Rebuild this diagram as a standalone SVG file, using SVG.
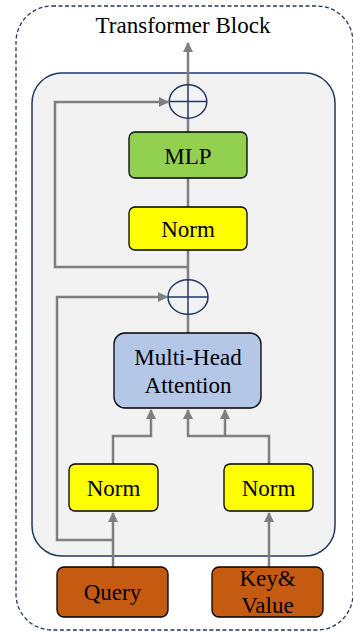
<svg xmlns="http://www.w3.org/2000/svg" width="353" height="634" viewBox="0 0 353 634">
<defs>
<marker id="ah" viewBox="0 0 10 10" refX="9" refY="5" markerWidth="4" markerHeight="4" orient="auto" markerUnits="strokeWidth">
<path d="M0,0 L10,5 L0,10 z" fill="#7f7f7f"/>
</marker>
<style>
text{font-family:"Liberation Serif","Times New Roman",serif;font-size:23px;fill:#000;text-anchor:middle}
.box{stroke:#000;stroke-width:1.3}
.conn{fill:none;stroke:#7f7f7f;stroke-width:2.5}
.plus{fill:none;stroke:#203864;stroke-width:1.5}
</style>
</defs>
<rect x="16" y="6" width="337" height="624" rx="36" fill="#fff" stroke="#203864" stroke-width="1.3" stroke-dasharray="4,2.5"/>
<text x="183" y="33">Transformer Block</text>
<rect x="32" y="73" width="303" height="483" rx="30" fill="#f2f2f2" stroke="#203864" stroke-width="1.5"/>

<g id="connectors">
<path class="conn" d="M188,85 L188,43" marker-end="url(#ah)"/>
<path class="conn" d="M188,132 L188,118"/>
<path class="conn" d="M188,207 L188,178"/>
<path class="conn" d="M188,280 L188,250"/>
<path class="conn" d="M188,267 L55,267 L55,102 L168,102" marker-end="url(#ah)"/>
<path class="conn" d="M188,333 L188,314"/>
<path class="conn" d="M113,540 L57,540 L57,297 L167,297" marker-end="url(#ah)"/>
<path class="conn" d="M113,464 L113,436 L151,436 L151,410" marker-end="url(#ah)"/>
<path class="conn" d="M269,464 L269,436 L188,436 L188,410" marker-end="url(#ah)"/>
<path class="conn" d="M225,436 L225,410" marker-end="url(#ah)"/>
<path class="conn" d="M113,567 L113,513" marker-end="url(#ah)"/>
<path class="conn" d="M269,567 L269,513" marker-end="url(#ah)"/>
</g>

<g id="add-top">
<ellipse class="plus" cx="188" cy="101.5" rx="18.8" ry="16.7"/>
<path class="plus" d="M169.2,101.5 H206.8 M188,84.8 V118.2"/>
</g>
<g id="mlp">
<rect class="box" x="129" y="132" width="118" height="46" rx="6" fill="#92d050"/>
<text x="188" y="164">MLP</text>
</g>
<g id="norm-top">
<rect class="box" x="129" y="207" width="118" height="43" rx="6" fill="#ffff00"/>
<text x="188" y="237">Norm</text>
</g>
<g id="add-bottom">
<ellipse class="plus" cx="188" cy="297" rx="20" ry="17.3"/>
<path class="plus" d="M168,297 H208 M188,279.7 V314.3"/>
</g>
<g id="mha">
<rect class="box" x="114" y="333" width="147" height="75" rx="11" fill="#b4c7e7"/>
<text x="188" y="365">Multi-Head</text>
<text x="188" y="393">Attention</text>
</g>
<g id="norm-left">
<rect class="box" x="69" y="464" width="89" height="47" rx="6" fill="#ffff00"/>
<text x="113.5" y="496">Norm</text>
</g>
<g id="norm-right">
<rect class="box" x="224" y="464" width="89" height="47" rx="6" fill="#ffff00"/>
<text x="268.5" y="496">Norm</text>
</g>
<g id="query">
<rect class="box" x="57" y="567" width="111" height="50" rx="7" fill="#c55a11"/>
<text x="112.5" y="600">Query</text>
</g>
<g id="keyvalue">
<rect class="box" x="212" y="567" width="111" height="50" rx="7" fill="#c55a11"/>
<text x="267.5" y="586">Key&amp;</text>
<text x="267.5" y="613">Value</text>
</g>
</svg>
